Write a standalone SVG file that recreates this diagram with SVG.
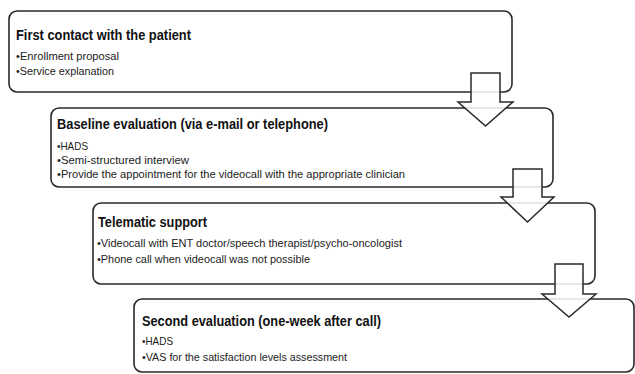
<svg xmlns="http://www.w3.org/2000/svg" width="635" height="374" viewBox="0 0 635 374">
<style>
.box{fill:#fff;stroke:#2a2a2a;stroke-width:1.6}
.arr{fill:#fff;fill-opacity:0.85;stroke:#2a2a2a;stroke-width:1.5;stroke-linejoin:miter}
.t{font-family:"Liberation Sans",Arial,sans-serif;font-weight:bold;font-size:14.5px;fill:#111}
.b{font-family:"Liberation Sans",Arial,sans-serif;font-size:11.5px;fill:#222}
</style>
<rect width="635" height="374" fill="#fff"/>
<g id="node1">
<rect class="box" x="9" y="11" width="503" height="81" rx="8"/>
<text class="t" x="16" y="40" textLength="175" lengthAdjust="spacingAndGlyphs">First contact with the patient</text>
<text class="b" x="16" y="60" textLength="103" lengthAdjust="spacingAndGlyphs">•Enrollment proposal</text>
<text class="b" x="16" y="75" textLength="98" lengthAdjust="spacingAndGlyphs">•Service explanation</text>
</g>
<g id="node2">
<rect class="box" x="51" y="108" width="502" height="79" rx="8"/>
<text class="t" x="57" y="129" textLength="271" lengthAdjust="spacingAndGlyphs">Baseline evaluation (via e-mail or telephone)</text>
<text class="b" x="57" y="150" textLength="31" lengthAdjust="spacingAndGlyphs">•HADS</text>
<text class="b" x="57" y="164" textLength="132" lengthAdjust="spacingAndGlyphs">•Semi-structured interview</text>
<text class="b" x="57" y="178" textLength="348" lengthAdjust="spacingAndGlyphs">•Provide the appointment for the videocall with the appropriate clinician</text>
</g>
<g id="node3">
<rect class="box" x="93" y="203" width="502" height="81" rx="8"/>
<text class="t" x="98" y="227" textLength="109" lengthAdjust="spacingAndGlyphs">Telematic support</text>
<text class="b" x="97" y="247" textLength="305" lengthAdjust="spacingAndGlyphs">•Videocall with ENT doctor/speech therapist/psycho-oncologist</text>
<text class="b" x="97" y="263" textLength="213" lengthAdjust="spacingAndGlyphs">•Phone call when videocall was not possible</text>
</g>
<g id="node4">
<rect class="box" x="134" y="299" width="500" height="73" rx="8"/>
<text class="t" x="142" y="326" textLength="239" lengthAdjust="spacingAndGlyphs">Second evaluation (one-week after call)</text>
<text class="b" x="142" y="345" textLength="31" lengthAdjust="spacingAndGlyphs">•HADS</text>
<text class="b" x="142" y="361" textLength="205" lengthAdjust="spacingAndGlyphs">•VAS for the satisfaction levels assessment</text>
</g>
<g id="connectors">
<polygon class="arr" points="471,73 500,73 500,102 513,102 485.5,126 458,102 471,102"/>
<polygon class="arr" points="513,169 542,169 542,197 554,197 527.5,222 501,197 513,197"/>
<polygon class="arr" points="555,264 583,264 583,294 596,294 569,317 542,294 555,294"/>
</g>
</svg>
